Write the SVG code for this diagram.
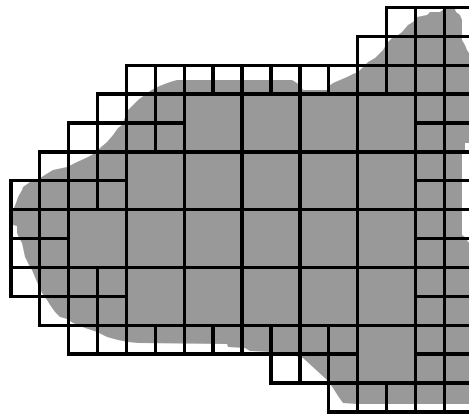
<svg xmlns="http://www.w3.org/2000/svg" width="469" height="417" viewBox="0 0 469 417">
<style>
.grid rect{fill:none;stroke:#000;stroke-width:3.4;vector-effect:non-scaling-stroke;shape-rendering:crispEdges}
.blob{fill:#999999;stroke:none}
</style>
<rect width="469" height="417" fill="#fff"/>
<path id="blob" class="blob" d="M150,91 L155,88 L162,85 L170,82 L177,80 L292,80 L297,83 L301,87 L303,90 L327,90 L329,86 L333,83 L340,80 L347,77 L353,74 L358,72 L362,68 L368,62 L375,58 L380,53 L383,50 L387,43 L392,38 L398,35 L402,32 L408,25 L413,22 L417,17 L427,15 L430,12 L440,12 L444,9 L455,9 L456,12 L460,15 L462,20 L462,40 L465,45 L467,50 L469,53 L469,143 L465,143 L465,150 L462,153 L462,235 L465,237 L469,243 L469,404 L357,404 L343,403 L338,396 L333,388 L327,380 L315,369 L303,358 L296,356 L290,355 L271,352 L250,351 L245,348 L228,347 L227,344 L138,343 L128,342 L118,340 L107,337 L97,332 L85,328 L73,323 L67,319 L60,317 L55,312 L50,305 L47,300 L42,293 L37,282 L32,270 L29,265 L25,257 L22,243 L19,238 L17,233 L17,226 L13,225 L13,210 L16,203 L18,197 L22,190 L23,187 L30,182 L40,178 L48,173 L53,170 L67,167 L77,162 L88,157 L95,153 L100,148 L107,142 L113,135 L118,128 L122,125 L128,110 L133,105 L138,100 L142,97 Z"/>
<g id="grid" class="grid" transform="translate(10.8,7.4) scale(28.9)">
<g id="row0"><rect x="13" y="0" width="1" height="1"/><rect x="14" y="0" width="1" height="1"/><rect x="15" y="0" width="1" height="1"/></g>
<g id="row1"><rect x="12" y="1" width="1" height="1"/><rect x="13" y="1" width="1" height="1"/><rect x="14" y="1" width="1" height="1"/><rect x="15" y="1" width="1" height="1"/></g>
<g id="row2"><rect x="4" y="2" width="1" height="1"/><rect x="5" y="2" width="1" height="1"/><rect x="6" y="2" width="1" height="1"/><rect x="7" y="2" width="1" height="1"/><rect x="8" y="2" width="1" height="1"/><rect x="9" y="2" width="1" height="1"/><rect x="10" y="2" width="1" height="1"/><rect x="11" y="2" width="1" height="1"/><rect x="12" y="2" width="1" height="1"/><rect x="13" y="2" width="1" height="1"/><rect x="14" y="2" width="1" height="1"/><rect x="15" y="2" width="1" height="1"/></g>
<g id="row3"><rect x="3" y="3" width="1" height="1"/><rect x="4" y="3" width="1" height="1"/><rect x="5" y="3" width="1" height="1"/><rect x="6" y="3" width="2" height="2"/><rect x="8" y="3" width="2" height="2"/><rect x="10" y="3" width="2" height="2"/><rect x="12" y="3" width="2" height="2"/><rect x="14" y="3" width="1" height="1"/><rect x="15" y="3" width="1" height="1"/></g>
<g id="row4"><rect x="2" y="4" width="1" height="1"/><rect x="3" y="4" width="1" height="1"/><rect x="4" y="4" width="1" height="1"/><rect x="5" y="4" width="1" height="1"/><rect x="14" y="4" width="1" height="1"/><rect x="15" y="4" width="1" height="1"/></g>
<g id="row5"><rect x="1" y="5" width="1" height="1"/><rect x="2" y="5" width="1" height="1"/><rect x="3" y="5" width="1" height="1"/><rect x="4" y="5" width="2" height="2"/><rect x="6" y="5" width="2" height="2"/><rect x="8" y="5" width="2" height="2"/><rect x="10" y="5" width="2" height="2"/><rect x="12" y="5" width="2" height="2"/><rect x="14" y="5" width="1" height="1"/><rect x="15" y="5" width="1" height="1"/></g>
<g id="row6"><rect x="0" y="6" width="1" height="1"/><rect x="1" y="6" width="1" height="1"/><rect x="2" y="6" width="1" height="1"/><rect x="3" y="6" width="1" height="1"/><rect x="14" y="6" width="1" height="1"/><rect x="15" y="6" width="1" height="1"/></g>
<g id="row7"><rect x="0" y="7" width="1" height="1"/><rect x="1" y="7" width="1" height="1"/><rect x="2" y="7" width="2" height="2"/><rect x="4" y="7" width="2" height="2"/><rect x="6" y="7" width="2" height="2"/><rect x="8" y="7" width="2" height="2"/><rect x="10" y="7" width="2" height="2"/><rect x="12" y="7" width="2" height="2"/><rect x="14" y="7" width="1" height="1"/><rect x="15" y="7" width="1" height="1"/></g>
<g id="row8"><rect x="0" y="8" width="1" height="1"/><rect x="1" y="8" width="1" height="1"/><rect x="14" y="8" width="1" height="1"/><rect x="15" y="8" width="1" height="1"/></g>
<g id="row9"><rect x="0" y="9" width="1" height="1"/><rect x="1" y="9" width="1" height="1"/><rect x="2" y="9" width="1" height="1"/><rect x="3" y="9" width="1" height="1"/><rect x="4" y="9" width="2" height="2"/><rect x="6" y="9" width="2" height="2"/><rect x="8" y="9" width="2" height="2"/><rect x="10" y="9" width="2" height="2"/><rect x="12" y="9" width="2" height="2"/><rect x="14" y="9" width="1" height="1"/><rect x="15" y="9" width="1" height="1"/></g>
<g id="row10"><rect x="1" y="10" width="1" height="1"/><rect x="2" y="10" width="1" height="1"/><rect x="3" y="10" width="1" height="1"/><rect x="14" y="10" width="1" height="1"/><rect x="15" y="10" width="1" height="1"/></g>
<g id="row11"><rect x="2" y="11" width="1" height="1"/><rect x="3" y="11" width="1" height="1"/><rect x="4" y="11" width="1" height="1"/><rect x="5" y="11" width="1" height="1"/><rect x="6" y="11" width="1" height="1"/><rect x="7" y="11" width="1" height="1"/><rect x="8" y="11" width="1" height="1"/><rect x="9" y="11" width="1" height="1"/><rect x="10" y="11" width="1" height="1"/><rect x="11" y="11" width="1" height="1"/><rect x="12" y="11" width="2" height="2"/><rect x="14" y="11" width="1" height="1"/><rect x="15" y="11" width="1" height="1"/></g>
<g id="row12"><rect x="9" y="12" width="1" height="1"/><rect x="10" y="12" width="1" height="1"/><rect x="11" y="12" width="1" height="1"/><rect x="14" y="12" width="1" height="1"/><rect x="15" y="12" width="1" height="1"/></g>
<g id="row13"><rect x="11" y="13" width="1" height="1"/><rect x="12" y="13" width="1" height="1"/><rect x="13" y="13" width="1" height="1"/><rect x="14" y="13" width="1" height="1"/><rect x="15" y="13" width="1" height="1"/></g>
</g>
</svg>
